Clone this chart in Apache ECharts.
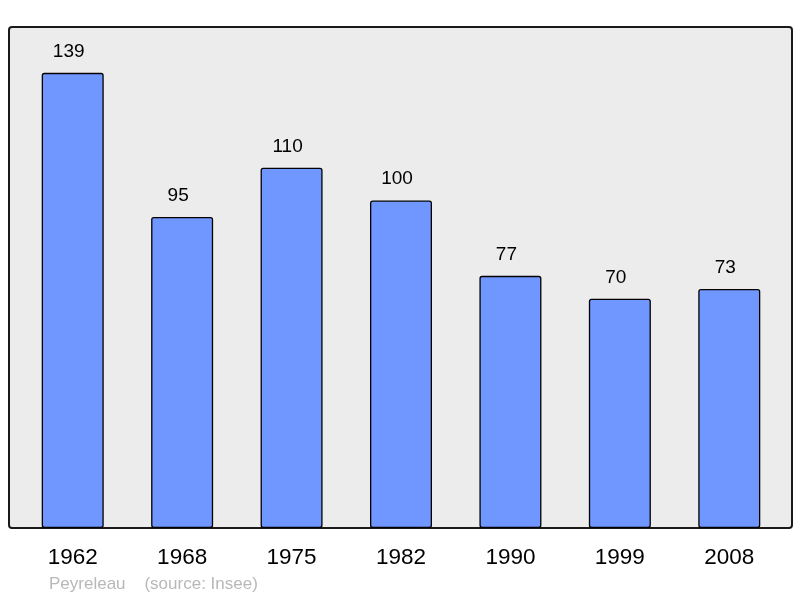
<!DOCTYPE html>
<html>
<head>
<meta charset="UTF-8">
<title></title>
<script src="https://cdn.jsdelivr.net/npm/echarts@6/dist/echarts.min.js"></script>
<style>
* { margin: 0; padding: 0; }
body { background: #fff; }
#app { width: 800px; height: 598px; }
</style>
</head>
<body>
<div id="app"></div>
<script>
var years = ['1962', '1968', '1975', '1982', '1990', '1999', '2008'];
var population = [139, 95, 110, 100, 77, 70, 73];

var myChart = echarts.init(document.getElementById('app'));

var option = {
  animation: false,
  graphic: [
    {
      type: 'rect',
      shape: { x: 9, y: 27, width: 783, height: 501, r: 3 },
      style: { fill: '#ececec', stroke: '#1a1a1a', lineWidth: 2 },
      z: -10
    },
    {
      type: 'text',
      left: 49,
      top: 576,
      style: {
        text: 'Peyreleau    (source: Insee)',
        fill: '#b8b8b8',
        font: '17px "Liberation Sans", Arial, sans-serif'
      }
    }
  ],
  grid: { left: 18, right: 16, top: 27, bottom: 70 },
  xAxis: {
    type: 'category',
    data: years,
    axisLine: { show: false },
    axisTick: { show: false },
    axisLabel: {
      margin: 18,
      color: '#000',
      fontSize: 22.5,
      fontFamily: 'Liberation Sans'
    }
  },
  yAxis: {
    type: 'value',
    min: 0,
    max: 153,
    show: false,
    splitLine: { show: false }
  },
  series: [{
    type: 'bar',
    data: population,
    barWidth: 62,
    itemStyle: {
      color: '#7097ff',
      borderColor: '#000',
      borderWidth: 1.3,
      borderRadius: 2
    },
    label: {
      show: true,
      position: 'top',
      distance: 12,
      offset: [-4, 0],
      color: '#000',
      fontSize: 19,
      fontFamily: 'Liberation Sans'
    }
  }]
};

myChart.setOption(option);
</script>
</body>
</html>
